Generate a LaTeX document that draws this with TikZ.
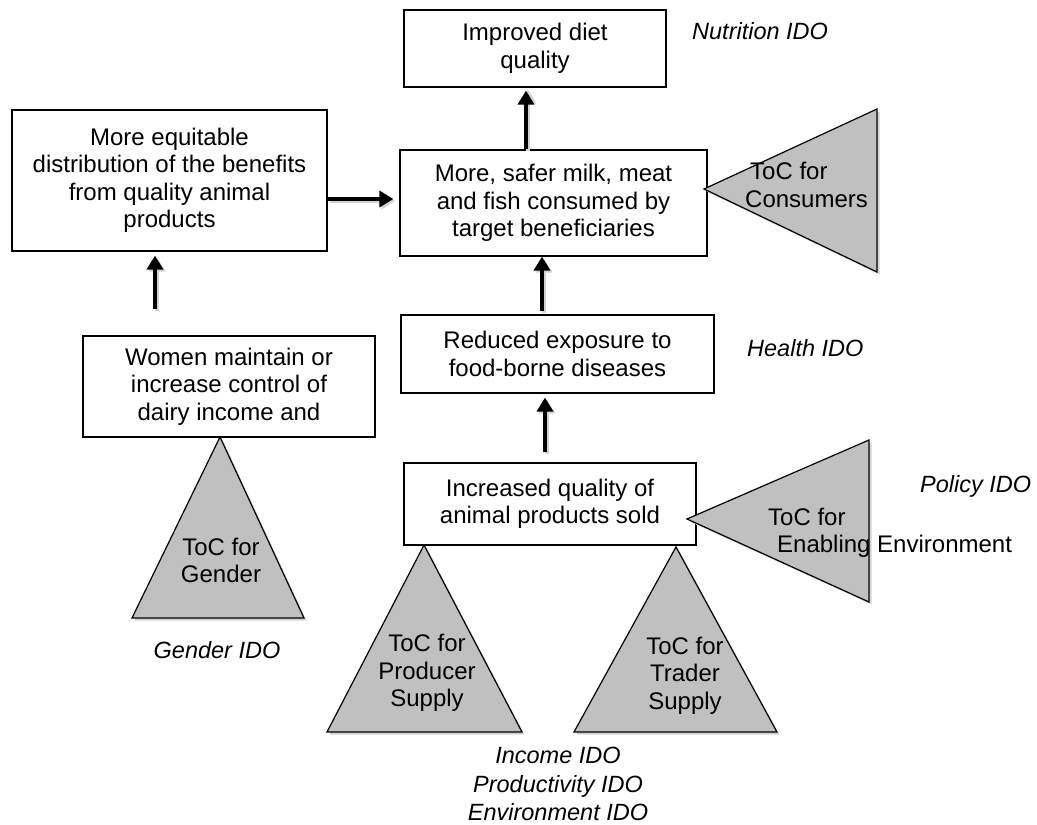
\documentclass[tikz,border=0pt]{standalone}
\usepackage{fontspec}
\setmainfont{Liberation Sans}
\usetikzlibrary{arrows.meta,shadows}
\definecolor{trigray}{HTML}{C0C0C0}
\definecolor{shadegray}{HTML}{D2D2D2}
\begin{document}
\begin{tikzpicture}[x=1pt,y=-1pt,
  box/.style={draw, line width=1.2pt, inner sep=0pt, align=center, fill=white,
    font=\fontsize{24}{27.5}\selectfont},
  tritext/.style={inner sep=0pt, align=center, font=\fontsize{24}{27.5}\selectfont},
  lab/.style={inner sep=0pt, align=center, font=\fontsize{23.5}{28.5}\selectfont\itshape},
  tri/.style={fill=trigray, draw=black, line width=1.2pt,
    drop shadow={shadow xshift=2.5pt, shadow yshift=-2.5pt, fill=shadegray, opacity=1}},
  arr/.style={line width=3.5pt, -{Triangle[length=14pt,width=16pt]}},
  arrsh/.style={arr, draw=shadegray, transform canvas={xshift=2pt,yshift=-2pt}}]
\useasboundingbox (0,0) rectangle (1037,825);

% boxes
\node[box, minimum width=262pt, minimum height=77pt] (b1) at (535,48.5) {Improved diet\\quality};
\node[box, minimum width=315pt, minimum height=141pt] (b2) at (169.5,180.5)
  {More equitable\\distribution of the benefits\\from quality animal\\products};
\node[box, minimum width=307pt, minimum height=106pt] (b3) at (553.5,203)
  {More, safer milk, meat\\and fish consumed by\\target beneficiaries};
\node[box, minimum width=292pt, minimum height=101pt] (b4) at (229,386.5)
  {Women maintain or\\increase control of\\dairy income and};
\node[box, minimum width=313pt, minimum height=78pt] (b5) at (557.5,354)
  {Reduced exposure to\\food-borne diseases};
\node[box, minimum width=292pt, minimum height=82pt] (b6) at (550,504)
  {Increased quality of\\animal products sold};

% triangles
\filldraw[tri] (704,189) -- (877,109) -- (877,272) -- cycle;
\filldraw[tri] (687,519) -- (869,440) -- (869,602) -- cycle;
\filldraw[tri] (220,437) -- (304,618) -- (132,618) -- cycle;
\filldraw[tri] (424,545) -- (522,732) -- (327,732) -- cycle;
\filldraw[tri] (676,547) -- (777,732) -- (574,732) -- cycle;

% triangle labels
\node[tritext, anchor=west, align=left] (tcons) at (745,185) {\hspace*{5pt}ToC for\\Consumers};
\node[tritext, anchor=west, align=left] (tenab) at (768,533) {ToC for\\\hspace*{9pt}Enabling Environment};
\node[tritext] (tgend) at (221,560.5) {ToC for\\Gender};
\node[tritext] (tprod) at (427,673) {ToC for\\Producer\\Supply};
\node[tritext] (ttrad) at (685,675.5) {ToC for\\Trader\\Supply};

% IDO labels
\node[lab, anchor=west] (lnut) at (692,31.5) {Nutrition IDO};
\node[lab, anchor=west] (lhea) at (747,348.5) {Health IDO};
\node[lab, anchor=west] (lpol) at (920,486) {Policy IDO};
\node[lab] (lgen) at (217,650) {Gender IDO};
\node[lab] (linc) at (558,784) {Income IDO\\Productivity IDO\\Environment IDO};

% arrow shadows
\draw[arrsh] ([xshift=-27.5pt]b3.north) -- ([xshift=-9pt]b1.south);
\draw[arrsh, shorten >=6pt] ([yshift=-18.5pt]b2.east) -- ([yshift=4pt]b3.west);
\draw[arrsh, shorten <=26pt, shorten >=4pt] ([xshift=-74pt]b4.north) -- ([xshift=-14.5pt]b2.south);
\draw[arrsh, shorten <=3pt] ([xshift=-15.5pt]b5.north) -- ([xshift=-11.5pt]b3.south);
\draw[arrsh, shorten <=10pt, shorten >=4pt] ([xshift=-5pt]b6.north) -- ([xshift=-12.5pt]b5.south);
% arrows
\draw[arr, shorten >=3pt] ([xshift=-27.5pt]b3.north) -- ([xshift=-9pt]b1.south);
\draw[arr, shorten >=6pt] ([yshift=-18.5pt]b2.east) -- ([yshift=4pt]b3.west);
\draw[arr, shorten <=26pt, shorten >=4pt] ([xshift=-74pt]b4.north) -- ([xshift=-14.5pt]b2.south);
\draw[arr, shorten <=3pt] ([xshift=-15.5pt]b5.north) -- ([xshift=-11.5pt]b3.south);
\draw[arr, shorten <=10pt, shorten >=4pt] ([xshift=-5pt]b6.north) -- ([xshift=-12.5pt]b5.south);
\end{tikzpicture}
\end{document}
